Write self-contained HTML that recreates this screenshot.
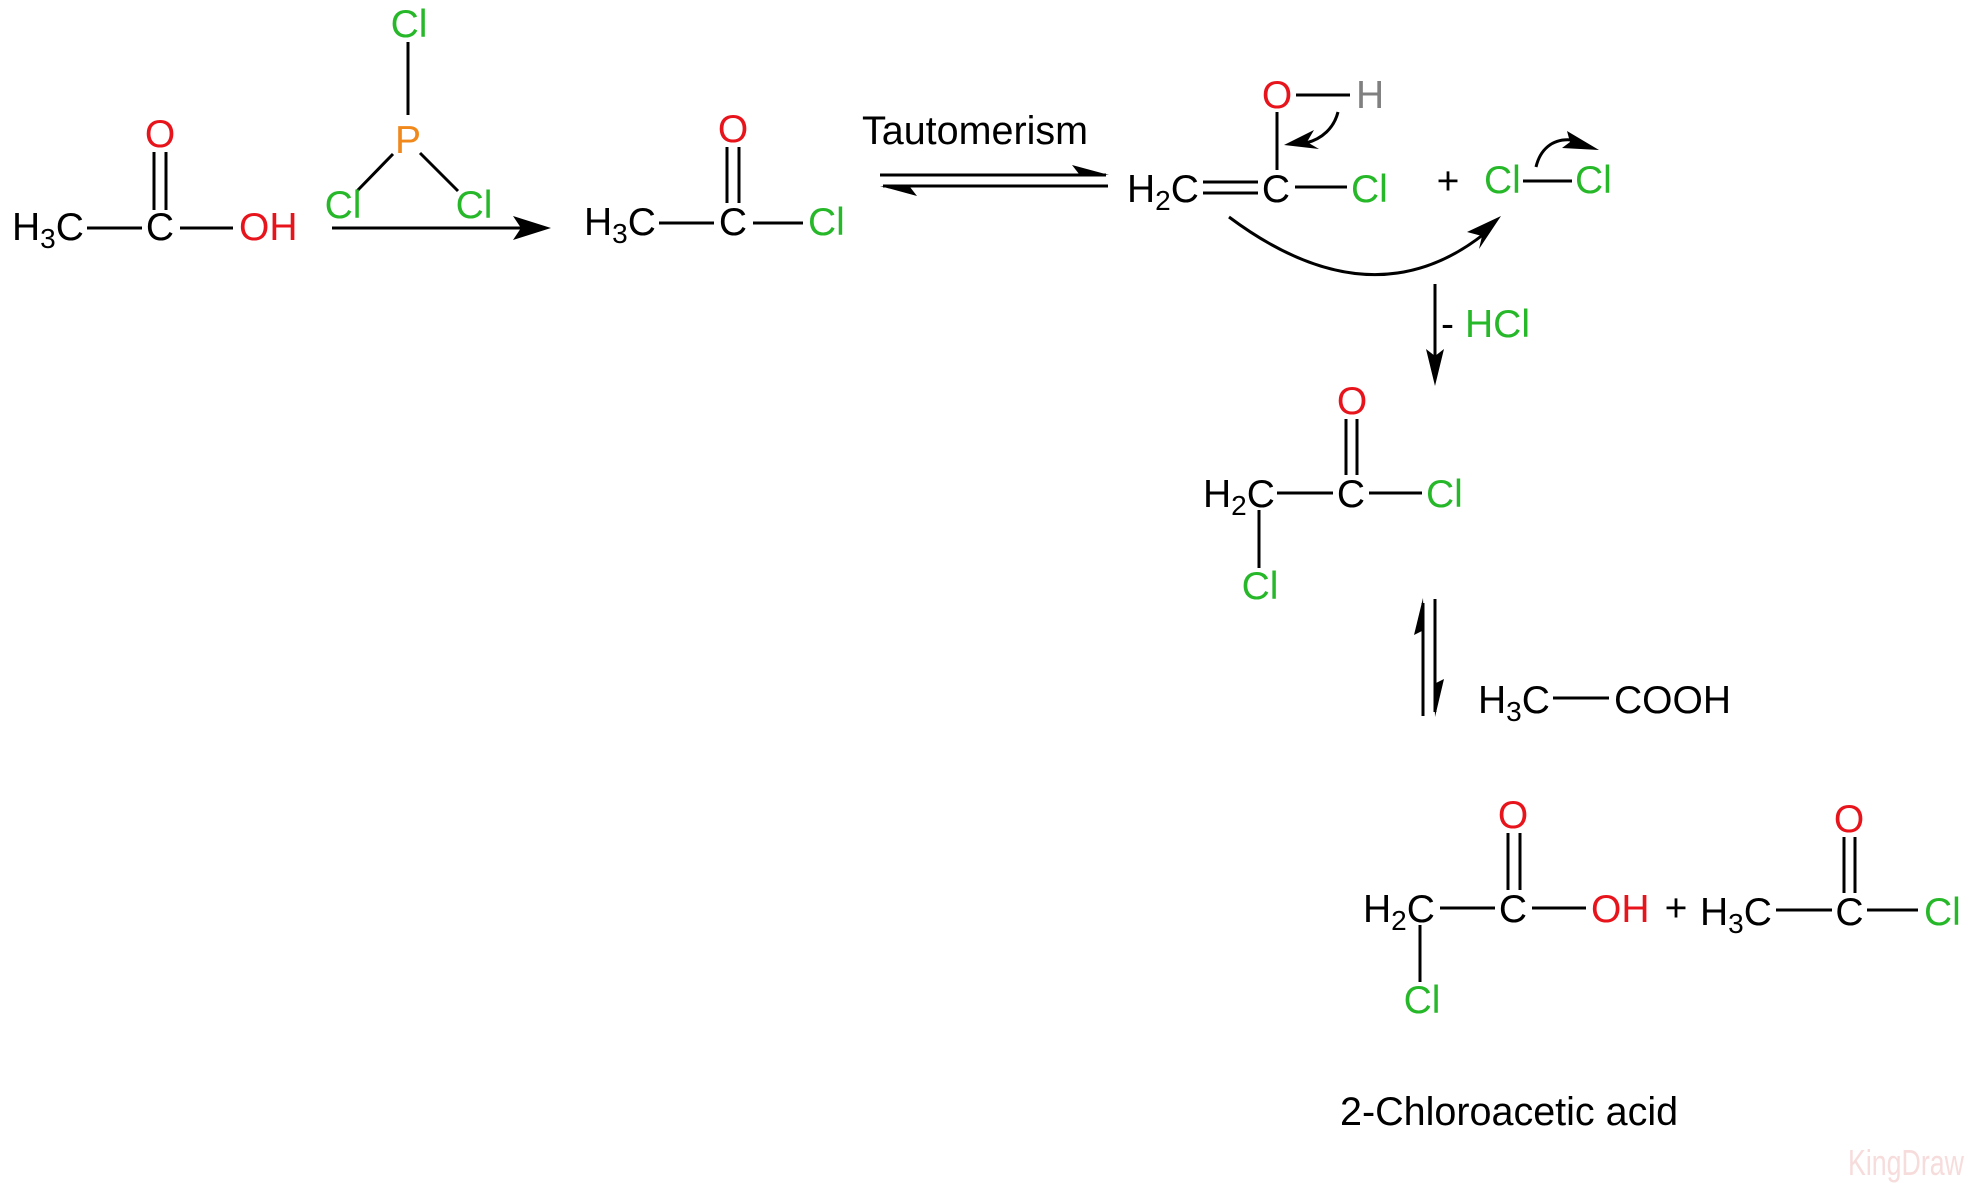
<!DOCTYPE html>
<html>
<head>
<meta charset="utf-8">
<style>
html,body{margin:0;padding:0;background:#fff;}
svg{display:block;}
text{font-family:"Liberation Sans",Arial,sans-serif;font-size:39px;}
.k{fill:#000;}
.r{fill:#e8141c;}
.g{fill:#27b82a;}
.o{fill:#f0881c;}
.h{fill:#808080;}
.m{text-anchor:middle;}
</style>
</head>
<body>
<svg width="1969" height="1183" viewBox="0 0 1969 1183" xmlns="http://www.w3.org/2000/svg">
<g stroke="#000" stroke-width="3" fill="none" stroke-linecap="butt">
  <!-- acetic acid -->
  <line x1="87" y1="228" x2="142" y2="228"/>
  <line x1="180" y1="228" x2="233" y2="228"/>
  <line x1="154" y1="152" x2="154" y2="210"/>
  <line x1="166" y1="152" x2="166" y2="210"/>
  <!-- PCl3 -->
  <line x1="408" y1="42" x2="408" y2="115"/>
  <line x1="393" y1="154" x2="357" y2="191"/>
  <line x1="420" y1="153" x2="458" y2="191"/>
  <!-- main arrow -->
  <line x1="332" y1="228" x2="522" y2="228"/>
  <!-- acetyl chloride -->
  <line x1="659" y1="223" x2="714" y2="223"/>
  <line x1="753" y1="223" x2="803" y2="223"/>
  <line x1="727" y1="147" x2="727" y2="203"/>
  <line x1="739" y1="147" x2="739" y2="203"/>
  <!-- tautomerism equilibrium -->
  <line x1="880" y1="175" x2="1106" y2="175"/>
  <line x1="883" y1="186" x2="1108" y2="186"/>
  <!-- enol -->
  <line x1="1203" y1="182" x2="1258" y2="182"/>
  <line x1="1203" y1="193" x2="1258" y2="193"/>
  <line x1="1277" y1="112" x2="1277" y2="170"/>
  <line x1="1296" y1="95" x2="1350" y2="95"/>
  <line x1="1295" y1="187" x2="1347" y2="187"/>
  <!-- Cl-Cl -->
  <line x1="1523" y1="181" x2="1572" y2="181"/>
  <!-- curved arrows -->
  <path d="M1338,112 C1334,128 1322,139 1306,143"/>
  <path d="M1536,167 C1540,150 1552,138 1572,140"/>
  <path d="M1229,217 Q1371,323 1484,234"/>
  <!-- HCl arrow -->
  <line x1="1435" y1="284" x2="1435" y2="360"/>
  <!-- chloroacetyl chloride -->
  <line x1="1346" y1="419" x2="1346" y2="475"/>
  <line x1="1357" y1="419" x2="1357" y2="475"/>
  <line x1="1277" y1="493" x2="1333" y2="493"/>
  <line x1="1369" y1="493" x2="1422" y2="493"/>
  <line x1="1259" y1="510" x2="1259" y2="568"/>
  <!-- vertical equilibrium -->
  <line x1="1423" y1="603" x2="1423" y2="716"/>
  <line x1="1435" y1="599" x2="1435" y2="712"/>
  <!-- H3C-COOH -->
  <line x1="1553" y1="698" x2="1609" y2="698"/>
  <!-- chloroacetic acid -->
  <line x1="1508" y1="833" x2="1508" y2="890"/>
  <line x1="1520" y1="833" x2="1520" y2="890"/>
  <line x1="1440" y1="908" x2="1495" y2="908"/>
  <line x1="1532" y1="908" x2="1586" y2="908"/>
  <line x1="1420" y1="925" x2="1420" y2="982"/>
  <!-- acetyl chloride product -->
  <line x1="1844" y1="837" x2="1844" y2="893"/>
  <line x1="1855" y1="837" x2="1855" y2="893"/>
  <line x1="1776" y1="910" x2="1832" y2="910"/>
  <line x1="1867" y1="910" x2="1918" y2="910"/>
</g>
<g fill="#000" stroke="none">
  <polygon points="551,228 513,216 521,228 513,240"/>
  <polygon points="1109,175 1072,165 1079,174"/>
  <polygon points="880,186 917,196 910,187"/>
  <polygon points="1284,145 1314,130 1307,142 1319,149"/>
  <polygon points="1599,150 1567,131 1570,142 1562,148"/>
  <polygon points="1501,216 1467,232 1482,236 1479,249"/>
  <polygon points="1435,386 1426,349 1435,356 1444,349"/>
  <polygon points="1423,598 1414,635 1424,630"/>
  <polygon points="1435,717 1444,679 1434,684"/>
</g>

<!-- acetic acid -->
<text class="k" x="12" y="240">H<tspan font-size="28" dy="8">3</tspan><tspan dy="-8">C</tspan></text>
<text class="k m" x="160" y="240">C</text>
<text class="r m" x="160" y="147">O</text>
<text class="r" x="239" y="240">OH</text>

<!-- PCl3 -->
<text class="g m" x="409" y="37">Cl</text>
<text class="o m" x="408" y="153">P</text>
<text class="g m" x="343" y="218">Cl</text>
<text class="g m" x="474" y="218">Cl</text>

<!-- acetyl chloride -->
<text class="k" x="584" y="235">H<tspan font-size="28" dy="8">3</tspan><tspan dy="-8">C</tspan></text>
<text class="k m" x="733" y="235">C</text>
<text class="r m" x="733" y="142">O</text>
<text class="g" x="808" y="235">Cl</text>

<text class="k" x="862" y="144" style="font-size:39.5px">Tautomerism</text>

<!-- enol -->
<text class="k" x="1127" y="202">H<tspan font-size="28" dy="8">2</tspan><tspan dy="-8">C</tspan></text>
<text class="k m" x="1276" y="202">C</text>
<text class="r m" x="1277" y="108">O</text>
<text class="h" x="1356" y="108">H</text>
<text class="g" x="1351" y="202">Cl</text>
<text class="k m" x="1448" y="194">+</text>
<text class="g" x="1484" y="193">Cl</text>
<text class="g" x="1575" y="193">Cl</text>

<text class="k" x="1441" y="337">-</text>
<text class="g" x="1465" y="337">HCl</text>

<!-- chloroacetyl chloride -->
<text class="r m" x="1352" y="414">O</text>
<text class="k" x="1203" y="507">H<tspan font-size="28" dy="8">2</tspan><tspan dy="-8">C</tspan></text>
<text class="k m" x="1351" y="507">C</text>
<text class="g" x="1426" y="507">Cl</text>
<text class="g m" x="1260" y="599">Cl</text>

<!-- H3C-COOH -->
<text class="k" x="1478" y="713">H<tspan font-size="28" dy="8">3</tspan><tspan dy="-8">C</tspan></text>
<text class="k" x="1614" y="713">COOH</text>

<!-- chloroacetic acid -->
<text class="r m" x="1513" y="828">O</text>
<text class="k" x="1363" y="922">H<tspan font-size="28" dy="8">2</tspan><tspan dy="-8">C</tspan></text>
<text class="k m" x="1513" y="922">C</text>
<text class="r" x="1591" y="922">OH</text>
<text class="g m" x="1422" y="1013">Cl</text>

<text class="k m" x="1676" y="921">+</text>

<!-- acetyl chloride product -->
<text class="r m" x="1849" y="832">O</text>
<text class="k" x="1700" y="925">H<tspan font-size="28" dy="8">3</tspan><tspan dy="-8">C</tspan></text>
<text class="k m" x="1849.5" y="925">C</text>
<text class="g" x="1924" y="925">Cl</text>

<text class="k" x="1340" y="1125" style="font-size:39.5px">2-Chloroacetic acid</text>

<text x="1848" y="1175" style="font-size:36px;fill:#f7dcdc" textLength="116" lengthAdjust="spacingAndGlyphs">KingDraw</text>
</svg>
</body>
</html>
